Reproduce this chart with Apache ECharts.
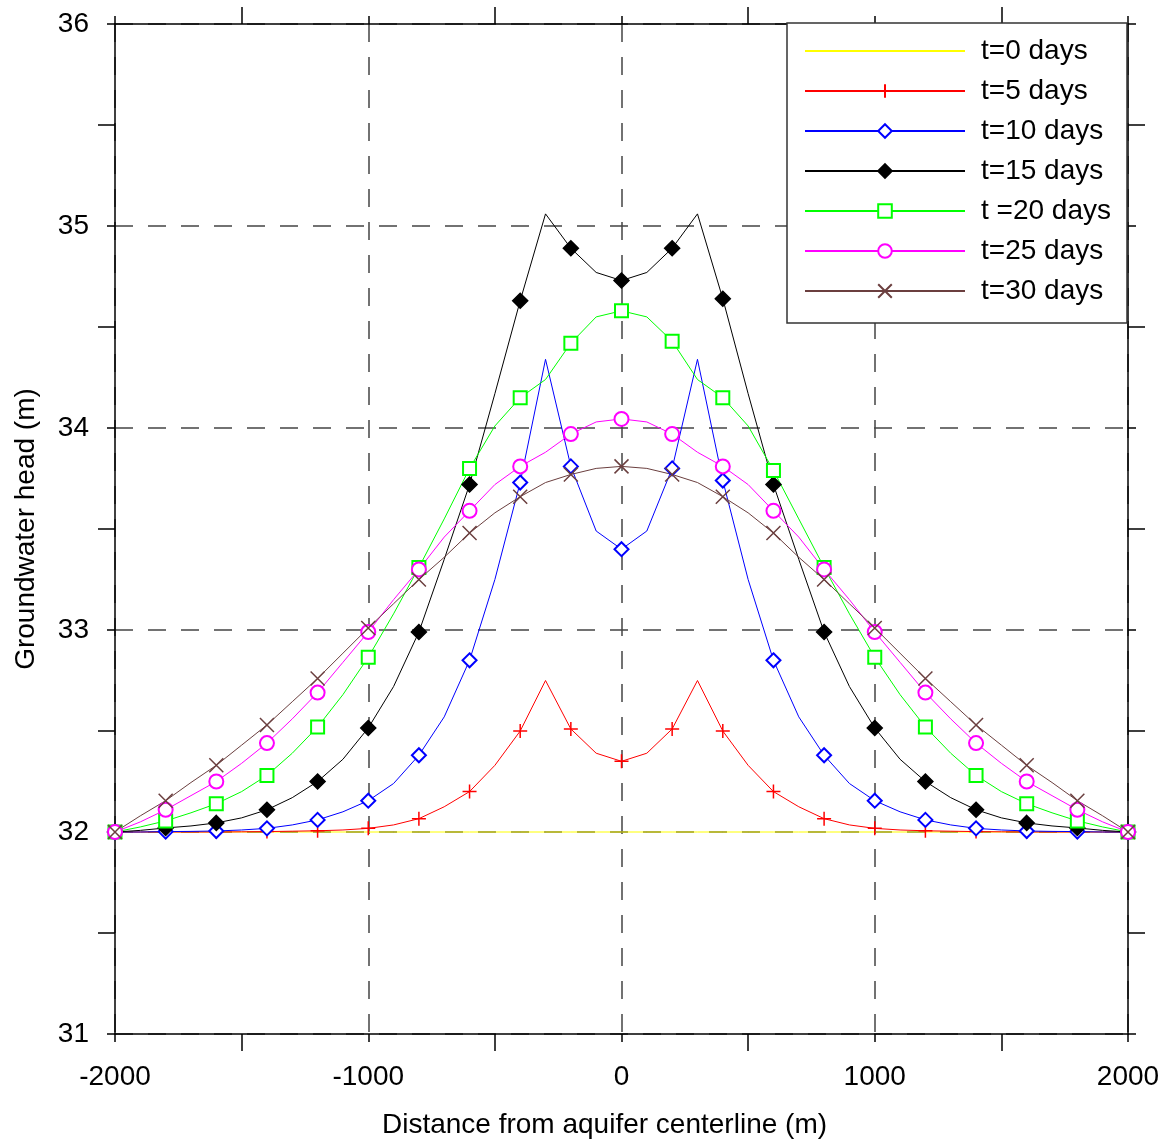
<!DOCTYPE html>
<html>
<head>
<meta charset="utf-8">
<script src="https://cdn.jsdelivr.net/npm/echarts@6/dist/echarts.min.js"></script>
<style>
  html, body { margin: 0; padding: 0; background: #fff; }
  #main { width: 1171px; height: 1144px; }
</style>
</head>
<body>
<div id="main"></div>
<script>
// distance from centerline (m), every 100 m; markers are drawn every 200 m
var distance = [-2000, -1900, -1800, -1700, -1600, -1500, -1400, -1300, -1200, -1100, -1000,
  -900, -800, -700, -600, -500, -400, -300, -200, -100, 0,
  100, 200, 300, 400, 500, 600, 700, 800, 900, 1000,
  1100, 1200, 1300, 1400, 1500, 1600, 1700, 1800, 1900, 2000];

var head0 = [32, 32, 32, 32, 32, 32, 32, 32, 32, 32, 32,
  32, 32, 32, 32, 32, 32, 32, 32, 32, 32,
  32, 32, 32, 32, 32, 32, 32, 32, 32, 32,
  32, 32, 32, 32, 32, 32, 32, 32, 32, 32];
var head5 = [32.0, 32.0, 32.0, 32.0, 32.0, 32.001, 32.002, 32.004, 32.006, 32.01, 32.018,
  32.035, 32.066, 32.125, 32.20, 32.33, 32.50, 32.75, 32.51, 32.39, 32.35,
  32.39, 32.51, 32.75, 32.50, 32.33, 32.20, 32.125, 32.066, 32.035, 32.018,
  32.01, 32.006, 32.004, 32.002, 32.001, 32.0, 32.0, 32.0, 32.0, 32.0];
var head10 = [32.0, 32.0, 32.002, 32.003, 32.005, 32.01, 32.018, 32.035, 32.06, 32.1, 32.155,
  32.24, 32.38, 32.57, 32.85, 33.25, 33.73, 34.34, 33.81, 33.49, 33.40,
  33.49, 33.80, 34.34, 33.74, 33.25, 32.85, 32.57, 32.38, 32.24, 32.155,
  32.1, 32.06, 32.035, 32.018, 32.01, 32.005, 32.003, 32.002, 32.0, 32.0];
var head15 = [32.0, 32.008, 32.02, 32.03, 32.045, 32.07, 32.11, 32.17, 32.25, 32.36, 32.515,
  32.72, 32.99, 33.35, 33.72, 34.17, 34.63, 35.06, 34.89, 34.77, 34.73,
  34.77, 34.89, 35.06, 34.64, 34.17, 33.72, 33.35, 32.99, 32.72, 32.515,
  32.36, 32.25, 32.17, 32.11, 32.07, 32.045, 32.03, 32.02, 32.008, 32.0];
var head20 = [32.0, 32.025, 32.055, 32.095, 32.14, 32.2, 32.28, 32.39, 32.52, 32.68, 32.865,
  33.08, 33.31, 33.55, 33.80, 34.01, 34.15, 34.24, 34.42, 34.55, 34.58,
  34.55, 34.43, 34.24, 34.15, 34.01, 33.79, 33.55, 33.31, 33.08, 32.865,
  32.68, 32.52, 32.39, 32.28, 32.2, 32.14, 32.095, 32.055, 32.025, 32.0];
var head25 = [32.0, 32.05, 32.11, 32.18, 32.25, 32.34, 32.44, 32.56, 32.69, 32.84, 32.99,
  33.15, 33.30, 33.46, 33.59, 33.72, 33.81, 33.88, 33.97, 34.03, 34.045,
  34.03, 33.97, 33.88, 33.81, 33.72, 33.59, 33.46, 33.30, 33.15, 32.99,
  32.84, 32.69, 32.56, 32.44, 32.34, 32.25, 32.18, 32.11, 32.05, 32.0];
var head30 = [32.0, 32.08, 32.155, 32.245, 32.33, 32.43, 32.53, 32.645, 32.76, 32.885, 33.01,
  33.13, 33.25, 33.36, 33.48, 33.58, 33.66, 33.73, 33.77, 33.80, 33.81,
  33.80, 33.77, 33.73, 33.66, 33.58, 33.48, 33.36, 33.25, 33.13, 33.01,
  32.885, 32.76, 32.645, 32.53, 32.43, 32.33, 32.245, 32.155, 32.08, 32.0];

var xTicks = [-2000, -1000, 0, 1000, 2000];
var yTicks = [31, 32, 33, 34, 35, 36];

var FONT = 'Liberation Sans, Arial, sans-serif';
var FS = 28;

// marker at every other point only
function pts(ys) {
  return distance.map(function (x, i) {
    return i % 2 ? { value: [x, ys[i]], symbol: 'none' } : [x, ys[i]];
  });
}

function curve(name, ys, color, symbol, size) {
  return {
    name: name,
    type: 'line',
    data: pts(ys),
    symbol: symbol,
    symbolSize: size,
    showAllSymbol: true,
    showSymbol: symbol !== 'none',
    lineStyle: { color: color, width: 1 },
    itemStyle: { color: color, borderColor: color, borderWidth: 1.5 },
    emphasis: { disabled: true },
    silent: true
  };
}

var PLUS = 'path://M0,5L10,5M5,0L5,10';
var CROSS = 'path://M0,0L10,10M10,0L0,10';

var series = [
  curve('t=0 days', head0, '#ffff00', 'none', 0),
  curve('t=5 days', head5, '#ff0000', PLUS, 14),
  curve('t=10 days', head10, '#0000ff', 'emptyDiamond', 14),
  curve('t=15 days', head15, '#000000', 'diamond', 15),
  curve('t =20 days', head20, '#00ff00', 'emptyRect', 13),
  curve('t=25 days', head25, '#ff00ff', 'emptyCircle', 14),
  curve('t=30 days', head30, '#6b3f3f', CROSS, 14)
];
series[0].itemStyle.opacity = 0;

var tickStyle = { show: true, inside: false, length: 8, lineStyle: { color: '#000', width: 1.5 } };
var minorStyle = { show: true, splitNumber: 2, length: 17, lineStyle: { color: '#000', width: 1.5 } };
var lineStyle = { show: true, onZero: false, lineStyle: { color: '#000', width: 1.5 } };
var gridLine = { show: true, lineStyle: { color: '#444', width: 1.5, type: [18, 15] } };
function plain(v) { return String(v); }

var chart = echarts.init(document.getElementById('main'));
chart.setOption({
  animation: false,
  backgroundColor: '#fff',
  grid: { left: 115, right: 43, top: 24, bottom: 107 },
  xAxis: [{
    type: 'value', min: xTicks[0], max: xTicks[xTicks.length - 1], interval: 1000,
    name: 'Distance from aquifer centerline (m)', nameLocation: 'middle', nameGap: 77,
    nameTextStyle: { fontFamily: FONT, fontSize: FS, color: '#000', padding: [0, 34, 0, 0] },
    axisLine: lineStyle, axisTick: tickStyle, minorTick: minorStyle,
    axisLabel: { fontFamily: FONT, fontSize: FS, color: '#000', margin: 29, formatter: plain },
    splitLine: gridLine
  }, {
    type: 'value', position: 'top', min: xTicks[0], max: xTicks[xTicks.length - 1], interval: 1000,
    axisLine: lineStyle, axisTick: tickStyle, minorTick: minorStyle,
    axisLabel: { show: false }, splitLine: { show: false }
  }],
  yAxis: [{
    type: 'value', min: yTicks[0], max: yTicks[yTicks.length - 1], interval: 1,
    name: 'Groundwater head (m)', nameLocation: 'middle', nameGap: 75,
    nameTextStyle: { fontFamily: FONT, fontSize: FS, color: '#000' },
    axisLine: lineStyle, axisTick: tickStyle, minorTick: minorStyle,
    axisLabel: { fontFamily: FONT, fontSize: FS, color: '#000', margin: 26, formatter: plain },
    splitLine: gridLine
  }, {
    type: 'value', position: 'right', min: yTicks[0], max: yTicks[yTicks.length - 1], interval: 1,
    axisLine: lineStyle, axisTick: tickStyle, minorTick: minorStyle,
    axisLabel: { show: false }, splitLine: { show: false }
  }],
  graphic: [{
    type: 'rect', z: 50,
    shape: { x: 787, y: 23, width: 340, height: 300 },
    style: { fill: '#fff', stroke: '#333', lineWidth: 1.5 }
  }],
  legend: {
    orient: 'vertical', left: 804, top: 37, padding: 0, z: 60,
    itemWidth: 160, itemHeight: 17, itemGap: 12,
    selectedMode: false,
    textStyle: { fontFamily: FONT, fontSize: FS, color: '#000', padding: [0, 0, 0, 11] },
    data: series.map(function (s) { return s.name; })
  },
  series: series
});
</script>
</body>
</html>
